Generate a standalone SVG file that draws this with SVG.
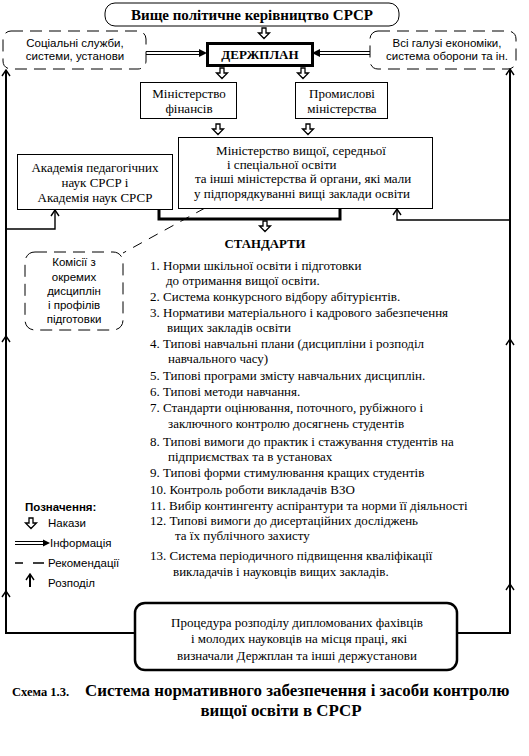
<svg xmlns="http://www.w3.org/2000/svg" width="529" height="756" viewBox="0 0 529 756">
<style>
.sf{font-family:"Liberation Serif","Times New Roman",serif;font-size:13px;fill:#000}
.sb{font-family:"Liberation Serif","Times New Roman",serif;font-weight:bold;fill:#000}
.ss{font-family:"Liberation Sans",Arial,sans-serif;font-size:11.5px;fill:#000}
.c{text-anchor:middle}
.box{fill:#fff;stroke:#000;stroke-width:1}
.dbox{fill:#fff;stroke:#000;stroke-width:1;stroke-dasharray:12 7}
.ln{fill:none;stroke:#000;stroke-width:2}
.thin{fill:none;stroke:#000;stroke-width:1.4}
</style>
<defs>
<marker id="up" viewBox="0 0 10 10" refX="9" refY="5" markerWidth="10" markerHeight="10" orient="auto" markerUnits="userSpaceOnUse">
<path d="M3,1 L9,5 L3,9" fill="none" stroke="#000" stroke-width="1.4"/>
</marker>
<path id="ha" d="M-2,0 h4 v5 h3.5 l-5.5,5.5 l-5.5,-5.5 h3.5 z" fill="#fff" stroke="#000" stroke-width="1.3"/>
</defs>
<rect width="529" height="756" fill="#fff"/>

<g id="connectors">
<path class="ln" d="M135,633 H6 V70" marker-end="url(#up)"/>
<path class="ln" d="M457,633 H510 V69" marker-end="url(#up)"/>
<path class="thin" d="M2,342 L6,336 L10,342 M2,597 L6,591 L10,597"/>
<path class="thin" d="M506,345 L510,339 L514,345 M506,590 L510,584 L514,590"/>
<path class="thin" d="M6,229 H55 V210" marker-end="url(#up)"/>
<path class="thin" d="M510,220 H397 V209" marker-end="url(#up)"/>
<path fill="none" stroke="#000" stroke-width="3" d="M159,209 V219 H340 V208"/>
<path fill="none" stroke="#000" stroke-width="1" stroke-dasharray="10 8" d="M205,208 L123,253"/>
<path fill="none" stroke="#000" stroke-width="1" d="M146,51.5 H201 M146,54.5 H201"/>
<path d="M207,53 L199,49 L199,57 z" fill="#000"/>
<path fill="none" stroke="#000" stroke-width="1" d="M318,51.5 H370 M318,54.5 H370"/>
<path d="M312,53 L320,49 L320,57 z" fill="#000"/>
<use href="#ha" x="264" y="28"/>
<use href="#ha" x="222" y="68"/>
<use href="#ha" x="303" y="68"/>
<use href="#ha" x="218" y="124"/>
<use href="#ha" x="308" y="124"/>
<use href="#ha" x="265" y="221"/>
</g>

<g id="top">
<rect class="box" x="105" y="3" width="294" height="23" rx="10"/>
<text class="sb c" x="252" y="20" font-size="15">Вище політичне керівництво СРСР</text>
</g>

<g id="derzhplan">
<rect x="207.5" y="43.5" width="105" height="22" fill="#fff" stroke="#000" stroke-width="3"/>
<text class="sb c" x="260" y="59" font-size="13">ДЕРЖПЛАН</text>
</g>

<g id="social">
<rect class="dbox" x="3" y="31" width="143" height="38" rx="8"/>
<text class="ss c" x="75" y="47">Соціальні служби,</text>
<text class="ss c" x="75" y="60">системи, установи</text>
</g>

<g id="economy">
<rect class="dbox" x="370" y="31" width="146" height="38" rx="8"/>
<text class="ss c" x="447" y="47">Всі галузі економіки,</text>
<text class="ss c" x="447" y="60">система оборони та ін.</text>
</g>

<g id="minfin">
<rect class="box" x="140.5" y="82.5" width="96" height="36"/>
<text class="sf c" x="189" y="98">Міністерство</text>
<text class="sf c" x="189" y="113">фінансів</text>
</g>

<g id="industry">
<rect class="box" x="295.5" y="82.5" width="92" height="36"/>
<text class="sf c" x="342" y="98">Промислові</text>
<text class="sf c" x="342" y="113">міністерства</text>
</g>

<g id="ministry">
<rect class="box" x="178.5" y="137.5" width="254" height="71"/>
<text class="sf c" x="301" y="155">Міністерство вищої, середньої</text>
<text class="sf" x="227" y="169">і спеціальної освіти</text>
<text class="sf c" x="303" y="183">та інші міністерства  й органи, які  мали</text>
<text class="sf c" x="302" y="198">у підпорядкуванні вищі заклади  освіти</text>
</g>

<g id="academy">
<rect class="box" x="17.5" y="154.5" width="155" height="55"/>
<text class="sf c" x="95" y="172">Академія педагогічних</text>
<text class="sf c" x="95" y="187">наук СРСР і</text>
<text class="sf c" x="95" y="202">Академія наук СРСР</text>
</g>

<g id="commission">
<rect class="dbox" x="25" y="252" width="98" height="78" rx="10"/>
<text class="ss c" x="74" y="266">Комісії з</text>
<text class="ss c" x="74" y="281">окремих</text>
<text class="ss c" x="74" y="295">дисциплін</text>
<text class="ss c" x="74" y="309">і профілів</text>
<text class="ss c" x="74" y="323">підготовки</text>
</g>

<g id="standards">
<text class="sb c" x="265" y="248" font-size="12.8">СТАНДАРТИ</text>
<text class="sf" x="150" y="270">1. Норми  шкільної освіти і підготовки</text>
<text class="sf" x="166" y="285">до отримання вищої освіти.</text>
<text class="sf" x="150" y="301">2. Система  конкурсного відбору абітурієнтів.</text>
<text class="sf" x="150" y="317">3. Нормативи матеріального і кадрового забезпечення</text>
<text class="sf" x="167" y="332">вищих закладів освіти</text>
<text class="sf" x="150" y="348">4. Типові навчальні плани (дисципліни і розподіл</text>
<text class="sf" x="168" y="363">навчального часу)</text>
<text class="sf" x="150" y="380">5. Типові програми  змісту навчальних дисциплін.</text>
<text class="sf" x="150" y="396">6. Типові методи  навчання.</text>
<text class="sf" x="150" y="412">7. Стандарти оцінювання, поточного, рубіжного і</text>
<text class="sf" x="168" y="428">заключного контролю досягнень студентів</text>
<text class="sf" x="150" y="446">8. Типові вимоги до практик і стажування студентів на</text>
<text class="sf" x="168" y="461">підприємствах та в установах</text>
<text class="sf" x="150" y="477">9.  Типові форми  стимулювання кращих студентів</text>
<text class="sf" x="150" y="494">10. Контроль  роботи викладачів ВЗО</text>
<text class="sf" x="150" y="510">11. Вибір контингенту аспірантури та норми її діяльності</text>
<text class="sf" x="150" y="525">12. Типові вимоги  до дисертаційних досліджень</text>
<text class="sf" x="175" y="540">та їх публічного захисту</text>
<text class="sf" x="150" y="560">13. Система  періодичного підвищення кваліфікації</text>
<text class="sf" x="173" y="576">викладачів і науковців вищих закладів.</text>
</g>

<g id="legend">
<text class="ss" x="25" y="511" font-weight="bold">Позначення:</text>
<use href="#ha" x="31" y="518"/>
<text class="ss" x="48" y="527">Накази</text>
<path fill="none" stroke="#000" stroke-width="1" d="M15,541.5 H44 M15,544.5 H44"/>
<path d="M50,543 L43,539.5 L43,546.5 z" fill="#000"/>
<text class="ss" x="50" y="547">Інформація</text>
<path fill="none" stroke="#000" stroke-width="1.3" d="M15,563 H23 M33,563 H44"/>
<text class="ss" x="48" y="567">Рекомендації</text>
<path fill="none" stroke="#000" stroke-width="2" d="M30,587 V574" marker-end="url(#up)"/>
<text class="ss" x="48" y="587">Розподіл</text>
</g>

<g id="distribution">
<rect x="135" y="603" width="322" height="67" rx="10" fill="#fff" stroke="#000" stroke-width="2.5"/>
<text class="sf c" x="297" y="627">Процедура розподілу дипломованих фахівців</text>
<text class="sf c" x="299" y="643">і молодих науковців на місця праці, які</text>
<text class="sf c" x="297" y="660">визначали Держплан та інші держустанови</text>
</g>

<g id="caption">
<text class="sb" x="12" y="696" font-size="12.5">Схема 1.3.</text>
<text class="sb" x="85" y="696" font-size="16.9">Система нормативного забезпечення і засоби контролю</text>
<text class="sb c" x="281" y="716" font-size="16.9">вищої освіти в СРСР</text>
</g>
</svg>
